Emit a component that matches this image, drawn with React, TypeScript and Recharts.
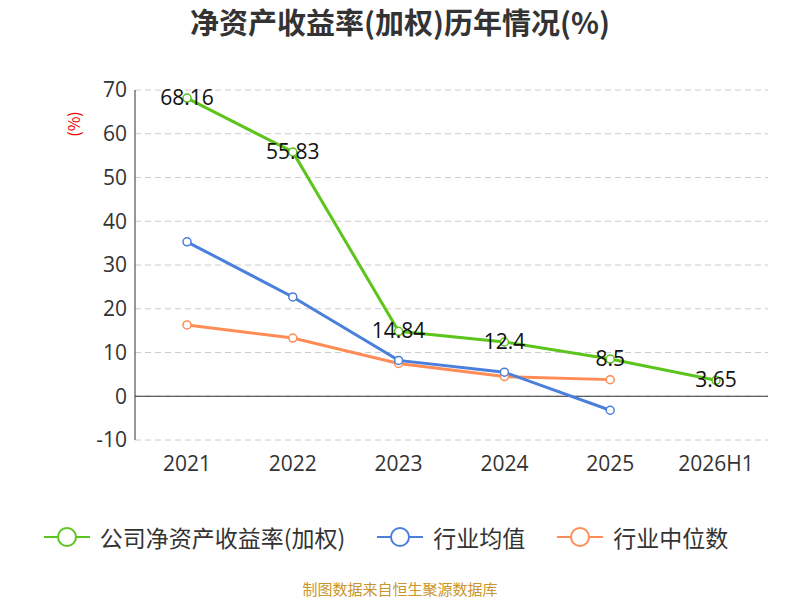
import { LineChart, Line, XAxis, YAxis, CartesianGrid, ReferenceLine, LabelList } from "recharts";

const years = ["2021", "2022", "2023", "2024", "2025", "2026H1"];
const company = [68.16, 55.83, 14.84, 12.4, 8.5, 3.65];
const industryMean = [35.3, 22.7, 8.2, 5.5, -3.2, null];
const industryMedian = [16.3, 13.3, 7.5, 4.5, 3.8, null];
const yTicks = [-10, 0, 10, 20, 30, 40, 50, 60, 70];

const GREEN = "#5cc41c";
const BLUE = "#4a7fdc";
const ORANGE = "#ff8c55";

const rows = years.map((y, i) => ({
  year: y,
  company: company[i],
  mean: industryMean[i],
  median: industryMedian[i],
}));

const dot = (c: string) => ({ r: 4, fill: "#fff", stroke: c, strokeWidth: 1.5 });

function CenterLabel(props: any) {
  const { x, y, value } = props;
  return (
    <text x={x} y={y} dy={7} textAnchor="middle" fontSize={21} fill="#111" fontFamily="'Open Sans', sans-serif">
      {value}
    </text>
  );
}

function LegendItem({ color, label }: { color: string; label: string }) {
  return (
    <span style={{ display: "inline-flex", alignItems: "center", marginRight: 30 }}>
      <svg width={50} height={24}>
        <line x1={2} y1={12} x2={48} y2={12} stroke={color} strokeWidth={2} />
        <circle cx={25} cy={12} r={9} fill="#fff" stroke={color} strokeWidth={2} />
      </svg>
      <span style={{ marginLeft: 8 }}>{label}</span>
    </span>
  );
}

export default function App() {
  return (
    <div style={{ position: "absolute", left: 0, top: 0, width: 800, height: 600, background: "#fff", fontFamily: "'Noto Sans CJK SC', 'Noto Sans', sans-serif" }}>
      <div style={{ position: "absolute", top: 0, width: 800, textAlign: "center", fontSize: 29, fontWeight: "bold", color: "#333" }}>
        净资产收益率(加权)历年情况(%)
      </div>
      <div style={{ position: "absolute", left: 60, top: 112, transform: "rotate(-90deg)", color: "#e00", fontSize: 16 }}>(%)</div>
      <LineChart width={800} height={480} data={rows} margin={{ top: 90, right: 32, bottom: 0, left: 75 }}>
        <CartesianGrid vertical={false} stroke="#ccc" strokeDasharray="6 4" />
        <XAxis dataKey="year" axisLine={false} tickLine={false} height={40} padding={{ left: 52, right: 52 }} tick={{ fill: "#333", fontSize: 21, fontFamily: "'Open Sans', sans-serif" }} tickMargin={10} interval={0} />
        <YAxis domain={[-10, 70]} ticks={yTicks} width={60} axisLine={{ stroke: "#333" }} tickLine={false} tick={{ fill: "#333", fontSize: 21, fontFamily: "'Open Sans', sans-serif" }} interval={0} />
        <ReferenceLine y={0} stroke="#333" />
        <Line dataKey="median" stroke={ORANGE} strokeWidth={3} dot={dot(ORANGE)} isAnimationActive={false} />
        <Line dataKey="mean" stroke={BLUE} strokeWidth={3} dot={dot(BLUE)} isAnimationActive={false} />
        <Line dataKey="company" stroke={GREEN} strokeWidth={3} dot={dot(GREEN)} isAnimationActive={false}>
          <LabelList dataKey="company" content={<CenterLabel />} />
        </Line>
      </LineChart>
      <div style={{ position: "absolute", top: 520, width: 800, textAlign: "center", fontSize: 23, color: "#333" }}>
        <LegendItem color={GREEN} label="公司净资产收益率(加权)" />
        <LegendItem color={BLUE} label="行业均值" />
        <LegendItem color={ORANGE} label="行业中位数" />
      </div>
      <div style={{ position: "absolute", top: 578, width: 800, textAlign: "center", fontSize: 15, color: "#c8962a" }}>
        制图数据来自恒生聚源数据库
      </div>
    </div>
  );
}
